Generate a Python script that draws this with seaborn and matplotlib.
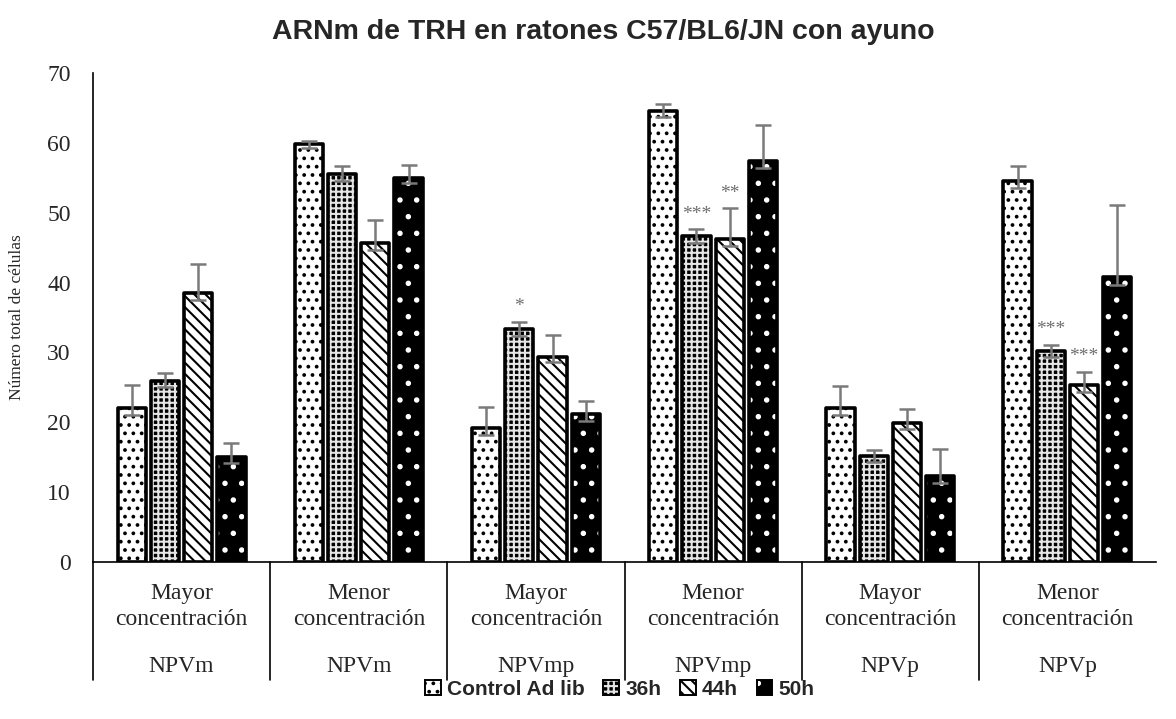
import pandas as pd
import seaborn as sns
import matplotlib.pyplot as plt
from matplotlib.patches import Rectangle, Patch
import matplotlib.transforms as mtransforms

# -------------------------------------------------
# 1. Data
# -------------------------------------------------
groups = ["m_may", "m_men", "mp_may", "mp_men", "p_may", "p_men"]
conc_labels = ["Mayor\nconcentración", "Menor\nconcentración"] * 3
region_labels = ["NPVm", "NPVm", "NPVmp", "NPVmp", "NPVp", "NPVp"]
series = ["Control Ad lib", "36h", "44h", "50h"]

control = [22.0, 59.8, 19.2, 64.6, 22.0, 54.5]
h36 = [25.9, 55.5, 33.3, 46.6, 15.1, 30.2]
h44 = [38.5, 45.6, 29.4, 46.2, 19.9, 25.3]
h50 = [15.0, 55.0, 21.2, 57.4, 12.3, 40.8]

# upper / lower error lengths
err_hi_control = [3.3, 0.5, 3.0, 1.0, 3.2, 2.2]
err_hi_36 = [1.1, 1.2, 1.1, 1.0, 0.9, 0.9]
err_hi_44 = [4.2, 3.3, 3.1, 4.4, 2.0, 1.9]
err_hi_50 = [2.0, 1.8, 1.9, 5.2, 3.9, 10.3]
err_lo_control = [0.9, 0.5, 1.0, 0.9, 1.0, 0.9]
err_lo_36 = [0.9, 1.0, 0.9, 0.9, 0.8, 0.9]
err_lo_44 = [1.0, 1.0, 0.8, 0.9, 0.9, 0.9]
err_lo_50 = [0.9, 0.8, 1.0, 1.0, 1.0, 1.2]

# significance marks: (group index, series index, text)
marks = [(2, 1, "*"), (3, 1, "***"), (3, 2, "**"), (5, 1, "***"), (5, 2, "***")]

values = [control, h36, h44, h50]
err_hi = [err_hi_control, err_hi_36, err_hi_44, err_hi_50]
err_lo = [err_lo_control, err_lo_36, err_lo_44, err_lo_50]

rows = []
for s, vals in zip(series, values):
    for g, v in zip(groups, vals):
        rows.append({"group": g, "serie": s, "value": v})
df = pd.DataFrame(rows)

# -------------------------------------------------
# 2. Styling per series: face, hatch, hatch colour
# -------------------------------------------------
faces = ["white", "black", "white", "black"]
hatches = ["..", "+++", "\\\\\\", "."]
hatch_cols = ["black", "#e6e6e6", "black", "white"]

sns.set_style("white")
plt.rcParams["font.family"] = ["Liberation Serif", "DejaVu Serif"]
plt.rcParams["hatch.linewidth"] = 1.5

fig = plt.figure(figsize=(11.76, 7.19), dpi=100)
ax = fig.add_axes([0.0791, 0.2184, 0.9039, 0.6801])

sns.barplot(data=df, x="group", y="value", hue="serie", order=groups,
            hue_order=series, palette=["white"] * 4, width=0.75, gap=0.15,
            legend=False, ax=ax, zorder=2)

# patches come out series by series
for i, s in enumerate(series):
    for j in range(len(groups)):
        bar = ax.patches[i * len(groups) + j]
        bar.set_facecolor(faces[i])
        bar.set_hatch(hatches[i])
        bar.set_edgecolor(hatch_cols[i])
        bar.set_linewidth(0)
        x0, w, h = bar.get_x(), bar.get_width(), bar.get_height()
        ax.add_patch(Rectangle((x0, 0), w, h, fill=False, edgecolor="black",
                               linewidth=2.6, joinstyle="round", zorder=3))
        xc = x0 + w / 2
        ax.errorbar(xc, h, yerr=[[err_lo[i][j]], [err_hi[i][j]]], fmt="none",
                    ecolor="#7a7a7a", elinewidth=1.8, capsize=5.5, capthick=1.8,
                    zorder=4)

for g, s, txt in marks:
    bar = ax.patches[s * len(groups) + g]
    xc = bar.get_x() + bar.get_width() / 2
    top = values[s][g] + err_hi[s][g]
    ax.annotate(txt, (xc, top), xytext=(0, 11), textcoords="offset points",
                ha="center", va="center", fontsize=14, color="#6e6e6e")

# -------------------------------------------------
# 3. Axes
# -------------------------------------------------
ax.set_ylim(0, 70)
ax.set_xlim(-0.5, 5.5)
ax.set_yticks(range(0, 71, 10))
ax.tick_params(axis="y", length=0, pad=16, labelsize=17)
ax.set_xticks([])
ax.set_xlabel("")
ax.set_ylabel("Número total de células", fontsize=12.5, labelpad=16)
for side in ["top", "right"]:
    ax.spines[side].set_visible(False)
for side in ["left", "bottom"]:
    ax.spines[side].set_linewidth(1.2)
    ax.spines[side].set_color("black")

# two-level category labels
trans = mtransforms.blended_transform_factory(ax.transData, ax.transAxes)
for k in range(len(groups)):
    ax.plot([k - 0.5, k - 0.5], [0, -0.241], color="black", lw=1.2,
            transform=trans, clip_on=False)
    ax.text(k, -0.091, conc_labels[k], transform=trans, ha="center",
            va="center", fontsize=17, linespacing=1.3)
    ax.text(k, -0.213, region_labels[k], transform=trans, ha="center",
            va="center", fontsize=17)

fig.text(0.513, 0.956, "ARNm de TRH en ratones C57/BL6/JN con ayuno",
         ha="center", va="center", fontsize=20.5, fontweight="bold",
         family=["Liberation Sans", "DejaVu Sans"])

# legend: hatched square + black outline on top
handles = [(Patch(facecolor=faces[i], hatch=hatches[i], edgecolor=hatch_cols[i],
                  linewidth=0),
            Patch(fill=False, edgecolor="black", linewidth=1.4))
           for i in range(len(series))]
fig.legend(handles, series, loc="center", bbox_to_anchor=(0.527, 0.041),
           ncol=4, frameon=False, handlelength=0.75, handleheight=0.75,
           handletextpad=0.3, columnspacing=0.9,
           prop={"family": ["Liberation Sans", "DejaVu Sans"],
                 "weight": "bold", "size": 15})

plt.savefig("out.png", dpi=100)
